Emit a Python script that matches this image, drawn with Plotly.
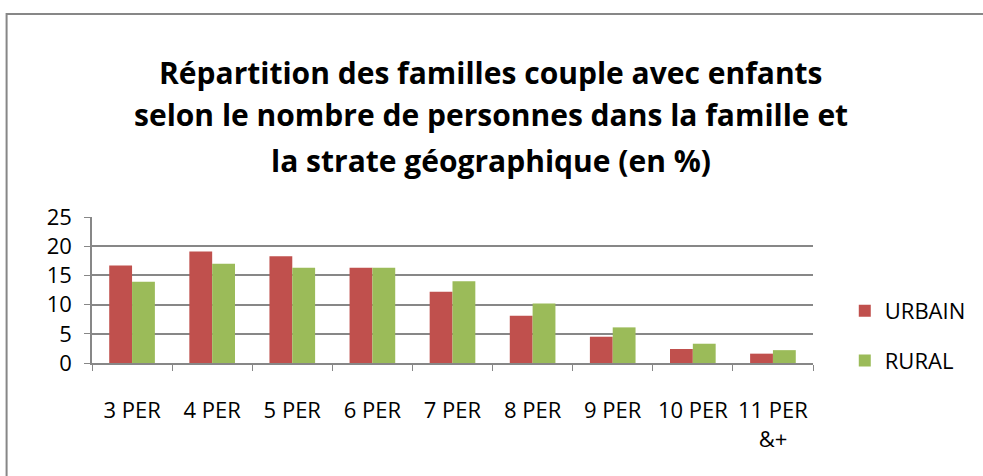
import plotly.graph_objects as go

categories = ["3 PER", "4 PER", "5 PER", "6 PER", "7 PER", "8 PER", "9 PER", "10 PER", "11 PER<br>&+"]
urbain = [16.7, 19.1, 18.3, 16.3, 12.2, 8.1, 4.5, 2.4, 1.6]
rural = [13.9, 17.0, 16.3, 16.3, 14.0, 10.2, 6.1, 3.3, 2.2]
title_lines = [
    "Répartition des familles couple avec enfants",
    "selon le nombre de personnes dans la famille et",
    "la strate géographique (en %)",
]
yticks = [0, 5, 10, 15, 20, 25]

FONT = "'Open Sans', sans-serif"
W, H = 983, 476
L, R, T, B = 92, 165, 217, 113
PW, PH = W - L - R, H - T - B

def px_x(x):
    return (x - L) / PW

def px_y(y):
    return (H - B - y) / PH

fig = go.Figure()
fig.add_trace(go.Bar(x=categories, y=urbain, name="URBAIN", marker_color="#C0504D",
                     marker_line_width=0, legendgroup="a"))
fig.add_trace(go.Bar(x=categories, y=rural, name="RURAL", marker_color="#9BBB59",
                     marker_line_width=0, legendgroup="b"))

annotations = []
for line, yc in zip(title_lines, [72, 114, 160]):
    annotations.append(dict(text="<b>" + line + "</b>", x=px_x(494), y=px_y(yc), xref="paper", yref="paper",
                            xanchor="center", yanchor="middle", showarrow=False,
                            font=dict(family=FONT, size=30, color="#000000")))

fig.update_layout(
    width=W, height=H,
    margin=dict(l=L, r=R, t=T, b=B, pad=0),
    paper_bgcolor="white", plot_bgcolor="white",
    barmode="group", bargap=0.43, bargroupgap=0,
    font=dict(family=FONT, size=22, color="#000000"),
    annotations=annotations,
    showlegend=True,
    legend=dict(x=px_x(850), y=px_y(290), xanchor="left", yanchor="top",
                font=dict(family=FONT, size=22), tracegroupgap=18,
                traceorder="grouped", itemwidth=30, bgcolor="rgba(0,0,0,0)"),
    shapes=[dict(type="rect", xref="paper", yref="paper",
                 x0=px_x(6), x1=px_x(995), y0=px_y(490), y1=px_y(14),
                 line=dict(color="#878787", width=2), fillcolor="rgba(0,0,0,0)")],
)
fig.update_xaxes(showline=True, linecolor="#878787", linewidth=1.5,
                 ticks="outside", tickson="boundaries", ticklen=6, tickcolor="#878787",
                 ticklabelstandoff=27, showgrid=False)
fig.update_yaxes(range=[0, 25], tickvals=yticks, showline=True, linecolor="#878787", linewidth=1.5,
                 ticks="outside", ticklen=6, tickcolor="#878787",
                 showgrid=True, gridcolor="#878787", gridwidth=1.5, zeroline=False,
                 ticklabelstandoff=8)

fig.write_html("out.html", config={"displayModeBar": False},
               post_script="document.body.style.margin='0';")
